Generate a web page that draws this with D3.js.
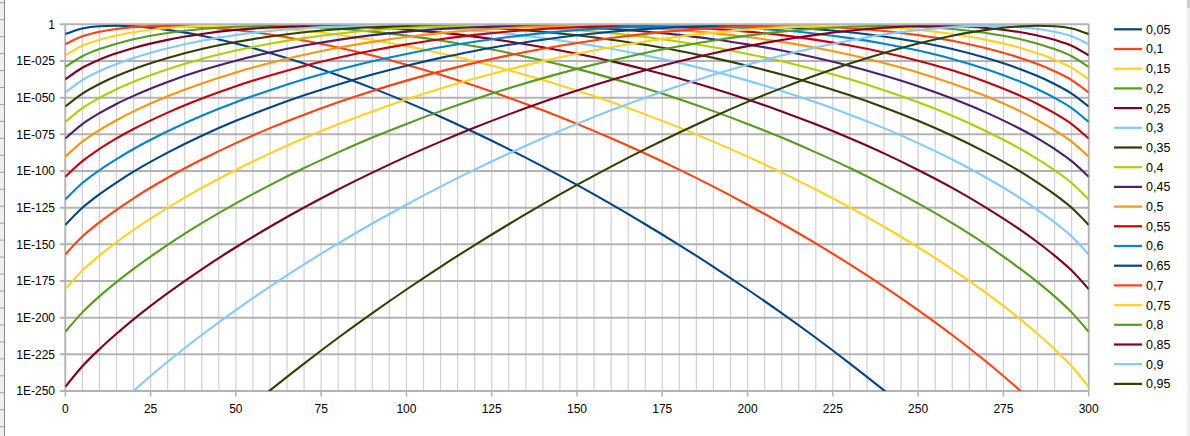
<!DOCTYPE html>
<html>
<head>
<meta charset="utf-8">
<script src="https://cdn.jsdelivr.net/npm/d3@7/dist/d3.min.js"></script>
<style>
  html, body { margin: 0; padding: 0; background: #fff; }
  svg { display: block; font-family: "Liberation Sans", Arial, sans-serif; }
</style>
</head>
<body>
<svg id="chart" width="1190" height="436"></svg>
<script>
// number of successes k (sampled points of 0..300)
const ks = [0,5,10,15,20,30,40,50,60,70,80,90,100,110,120,130,140,150,160,170,180,190,200,210,220,230,240,250,260,270,280,285,290,295,300];

// series names (probability p)
const seriesNames = ["0,05","0,1","0,15","0,2","0,25","0,3","0,35","0,4","0,45","0,5","0,55","0,6","0,65","0,7","0,75","0,8","0,85","0,9","0,95"];

// values as decimal exponents (value = 10^e)
const e05 = [-6.7,-2.8,-1.3,-1.0,-1.4,-3.8,-7.8,-13.1,-19.5,-26.7,-34.7,-43.5,-52.9,-63.0,-73.8,-85.1,-97.0,-109.5,-122.6,-136.3,-150.5,-165.3,-180.8,-196.9,-213.7,-231.3,-249.6,-268.9,-289.2,-310.7,-333.9,-346.2,-359.4,-373.6,-390.3];
const e10 = [-13.7,-8.2,-5.1,-3.2,-1.9,-1.1,-1.9,-3.9,-7.0,-11.0,-15.8,-21.3,-27.5,-34.4,-41.9,-50.0,-58.6,-67.9,-77.7,-88.1,-99.1,-110.7,-123.0,-135.8,-149.4,-163.7,-178.8,-194.8,-211.8,-230.1,-250.0,-260.8,-272.3,-284.9,-300.0];
const e15 = [-21.2,-14.6,-10.6,-7.6,-5.4,-2.5,-1.3,-1.3,-2.4,-4.4,-7.2,-10.7,-14.9,-19.7,-25.2,-31.3,-38.0,-45.2,-53.0,-61.4,-70.4,-80.0,-90.2,-101.1,-112.6,-124.9,-138.0,-152.0,-167.0,-183.3,-201.2,-211.0,-221.5,-233.1,-247.2];
const e20 = [-29.1,-21.8,-16.9,-13.2,-10.2,-5.9,-3.2,-1.7,-1.2,-1.7,-3.0,-5.0,-7.7,-11.0,-15.0,-19.5,-24.7,-30.4,-36.7,-43.6,-51.1,-59.2,-67.9,-77.2,-87.3,-98.0,-109.6,-122.1,-135.6,-150.4,-166.8,-175.8,-185.5,-196.4,-209.7];
const e25 = [-37.5,-29.6,-24.1,-19.8,-16.1,-10.6,-6.6,-3.8,-2.2,-1.4,-1.4,-2.1,-3.6,-5.7,-8.4,-11.7,-15.6,-20.1,-25.1,-30.8,-37.0,-43.8,-51.3,-59.4,-68.2,-77.7,-88.0,-99.3,-111.5,-125.1,-140.2,-148.6,-157.7,-167.9,-180.6];
const e30 = [-46.5,-38.0,-32.0,-27.1,-23.0,-16.3,-11.2,-7.4,-4.6,-2.7,-1.6,-1.3,-1.6,-2.6,-4.3,-6.5,-9.3,-12.7,-16.7,-21.2,-26.3,-32.1,-38.4,-45.5,-53.2,-61.6,-70.8,-81.0,-92.2,-104.6,-118.6,-126.5,-135.0,-144.7,-156.9];
const e35 = [-56.1,-47.2,-40.7,-35.3,-30.6,-23.0,-16.9,-12.1,-8.3,-5.4,-3.4,-2.0,-1.4,-1.4,-2.0,-3.3,-5.1,-7.5,-10.5,-14.0,-18.2,-22.9,-28.3,-34.3,-41.0,-48.4,-56.7,-65.8,-76.0,-87.5,-100.5,-107.9,-115.9,-125.1,-136.8];
const e40 = [-66.6,-57.1,-50.2,-44.3,-39.2,-30.6,-23.6,-17.9,-13.2,-9.4,-6.4,-4.1,-2.5,-1.6,-1.3,-1.6,-2.5,-4.0,-6.0,-8.7,-11.9,-15.7,-20.2,-25.2,-31.0,-37.5,-44.9,-53.1,-62.3,-72.9,-85.0,-91.9,-99.5,-108.2,-119.4];
const e45 = [-77.9,-68.0,-60.6,-54.3,-48.8,-39.3,-31.4,-24.8,-19.2,-14.5,-10.6,-7.4,-5.0,-3.2,-2.0,-1.4,-1.4,-2.0,-3.2,-4.9,-7.2,-10.2,-13.7,-17.9,-22.8,-28.4,-34.9,-42.2,-50.6,-60.2,-71.4,-77.8,-85.0,-93.3,-104.0];
const e50 = [-90.3,-80.0,-72.2,-65.4,-59.4,-49.1,-40.3,-32.8,-26.4,-20.8,-16.0,-12.0,-8.7,-6.0,-4.0,-2.5,-1.6,-1.3,-1.6,-2.5,-4.0,-6.0,-8.7,-12.0,-16.0,-20.8,-26.4,-32.8,-40.3,-49.1,-59.4,-65.4,-72.2,-80.0,-90.3];
const e55 = [-104.0,-93.3,-85.0,-77.8,-71.4,-60.2,-50.6,-42.2,-34.9,-28.4,-22.8,-17.9,-13.7,-10.2,-7.2,-4.9,-3.2,-2.0,-1.4,-1.4,-2.0,-3.2,-5.0,-7.4,-10.6,-14.5,-19.2,-24.8,-31.4,-39.3,-48.8,-54.3,-60.6,-68.0,-77.9];
const e60 = [-119.4,-108.2,-99.5,-91.9,-85.0,-72.9,-62.3,-53.1,-44.9,-37.5,-31.0,-25.2,-20.2,-15.7,-11.9,-8.7,-6.0,-4.0,-2.5,-1.6,-1.3,-1.6,-2.5,-4.1,-6.4,-9.4,-13.2,-17.9,-23.6,-30.6,-39.2,-44.3,-50.2,-57.1,-66.6];
const e65 = [-136.8,-125.1,-115.9,-107.9,-100.5,-87.5,-76.0,-65.8,-56.7,-48.4,-41.0,-34.3,-28.3,-22.9,-18.2,-14.0,-10.5,-7.5,-5.1,-3.3,-2.0,-1.4,-1.4,-2.0,-3.4,-5.4,-8.3,-12.1,-16.9,-23.0,-30.6,-35.3,-40.7,-47.2,-56.1];
const e70 = [-156.9,-144.7,-135.0,-126.5,-118.6,-104.6,-92.2,-81.0,-70.8,-61.6,-53.2,-45.5,-38.4,-32.1,-26.3,-21.2,-16.7,-12.7,-9.3,-6.5,-4.3,-2.6,-1.6,-1.3,-1.6,-2.7,-4.6,-7.4,-11.2,-16.3,-23.0,-27.1,-32.0,-38.0,-46.5];
const e75 = [-180.6,-167.9,-157.7,-148.6,-140.2,-125.1,-111.5,-99.3,-88.0,-77.7,-68.2,-59.4,-51.3,-43.8,-37.0,-30.8,-25.1,-20.1,-15.6,-11.7,-8.4,-5.7,-3.6,-2.1,-1.4,-1.4,-2.2,-3.8,-6.6,-10.6,-16.1,-19.8,-24.1,-29.6,-37.5];
const e80 = [-209.7,-196.4,-185.5,-175.8,-166.8,-150.4,-135.6,-122.1,-109.6,-98.0,-87.3,-77.2,-67.9,-59.2,-51.1,-43.6,-36.7,-30.4,-24.7,-19.5,-15.0,-11.0,-7.7,-5.0,-3.0,-1.7,-1.2,-1.7,-3.2,-5.9,-10.2,-13.2,-16.9,-21.8,-29.1];
const e85 = [-247.2,-233.1,-221.5,-211.0,-201.2,-183.3,-167.0,-152.0,-138.0,-124.9,-112.6,-101.1,-90.2,-80.0,-70.4,-61.4,-53.0,-45.2,-38.0,-31.3,-25.2,-19.7,-14.9,-10.7,-7.2,-4.4,-2.4,-1.3,-1.3,-2.5,-5.4,-7.6,-10.6,-14.6,-21.2];
const e90 = [-300.0,-284.9,-272.3,-260.8,-250.0,-230.1,-211.8,-194.8,-178.8,-163.7,-149.4,-135.8,-123.0,-110.7,-99.1,-88.1,-77.7,-67.9,-58.6,-50.0,-41.9,-34.4,-27.5,-21.3,-15.8,-11.0,-7.0,-3.9,-1.9,-1.1,-1.9,-3.2,-5.1,-8.2,-13.7];
const e95 = [-390.3,-373.6,-359.4,-346.2,-333.9,-310.7,-289.2,-268.9,-249.6,-231.3,-213.7,-196.9,-180.8,-165.3,-150.5,-136.3,-122.6,-109.5,-97.0,-85.1,-73.8,-63.0,-52.9,-43.5,-34.7,-26.7,-19.5,-13.1,-7.8,-3.8,-1.4,-1.0,-1.3,-2.8,-6.7];

const seriesValues = [e05,e10,e15,e20,e25,e30,e35,e40,e45,e50,e55,e60,e65,e70,e75,e80,e85,e90,e95];

const colors = ["#004586","#ff420e","#ffd320","#579d1c","#7e0021","#83caff","#314004","#aecf00","#4b1f6f","#ff950e","#c5000b","#0084d1","#004586","#ff420e","#ffd320","#579d1c","#7e0021","#83caff","#314004"];

const xTickValues = [0,25,50,75,100,125,150,175,200,225,250,275,300];
const yTickValues = [0,-25,-50,-75,-100,-125,-150,-175,-200,-225,-250];
const yTickLabels = ["1","1E-025","1E-050","1E-075","1E-100","1E-125","1E-150","1E-175","1E-200","1E-225","1E-250"];

// ---------- drawing ----------
const svg = d3.select("#chart");
svg.append("rect").attr("width",1190).attr("height",436).attr("fill","#fff");

// spreadsheet edge (left row headers, right scrollbar)
svg.append("rect").attr("x",0).attr("y",0).attr("width",4.5).attr("height",436).attr("fill","#f0f0f0");
svg.append("line").attr("x1",4.5).attr("x2",4.5).attr("y1",0).attr("y2",436).attr("stroke","#8a8a8a").attr("stroke-width",1);
svg.append("g").selectAll("line").data(d3.range(0,26)).join("line")
  .attr("x1",0).attr("x2",4).attr("y1",d=>2.7+d*16.96).attr("y2",d=>2.7+d*16.96)
  .attr("stroke","#a0a0a0").attr("stroke-width",1);
svg.append("rect").attr("x",1187).attr("y",0).attr("width",3).attr("height",436).attr("fill","#f0f0f0");
svg.append("rect").attr("x",1187).attr("y",0).attr("width",3).attr("height",8).attr("fill","#cdcdcd");

const x = d3.scaleLinear().domain([0,300]).range([65.3,1088.7]);
const y = d3.scaleLinear().domain([-250,0]).range([391,24.3]);

// vertical grid every 5
svg.append("g").selectAll("line").data(d3.range(0,301,5)).join("line")
  .attr("x1",d=>x(d)).attr("x2",d=>x(d)).attr("y1",y(0)).attr("y2",y(-250))
  .attr("stroke","#d0d0d0").attr("stroke-width",1.2);

// x ticks (below axis)
svg.append("g").selectAll("line").data(xTickValues).join("line")
  .attr("x1",d=>x(d)).attr("x2",d=>x(d)).attr("y1",y(-250)).attr("y2",y(-250)+5.5)
  .attr("stroke","#b3b3b3").attr("stroke-width",1.5);

// horizontal grid (with outer tick)
svg.append("g").selectAll("line").data(yTickValues).join("line")
  .attr("x1",x(0)-5.5).attr("x2",x(300)).attr("y1",d=>y(d)).attr("y2",d=>y(d))
  .attr("stroke","#b3b3b3").attr("stroke-width",2);

// plot borders left/right
svg.append("line").attr("x1",x(0)).attr("x2",x(0)).attr("y1",y(0)).attr("y2",y(-250)).attr("stroke","#b3b3b3").attr("stroke-width",1.8);
svg.append("line").attr("x1",x(300)).attr("x2",x(300)).attr("y1",y(0)).attr("y2",y(-250)).attr("stroke","#b3b3b3").attr("stroke-width",1.8);

// tick labels
svg.append("g").selectAll("text").data(yTickValues).join("text")
  .attr("x",55).attr("y",d=>y(d)+4.3).attr("text-anchor","end")
  .attr("font-size",12).attr("fill","#000").text((d,i)=>yTickLabels[i]);
svg.append("g").selectAll("text").data(xTickValues).join("text")
  .attr("x",d=>x(d)).attr("y",413.3).attr("text-anchor","middle")
  .attr("font-size",12).attr("fill","#000").text(d=>d);

// clip
svg.append("clipPath").attr("id","plotclip").append("rect")
  .attr("x",x(0)).attr("y",y(0)-3).attr("width",x(300)-x(0)).attr("height",y(-250)-y(0)+3);

const line = d3.line().x((d,i)=>x(ks[i])).y(d=>y(d)).curve(d3.curveMonotoneX);

svg.append("g").attr("clip-path","url(#plotclip)")
  .selectAll("path").data(seriesValues).join("path")
  .attr("d",d=>line(d)).attr("fill","none")
  .attr("stroke",(d,i)=>colors[i]).attr("stroke-width",2.1)
  .attr("stroke-linejoin","round").attr("stroke-linecap","butt");

// legend
const lg = svg.append("g").selectAll("g").data(seriesNames).join("g")
  .attr("transform",(d,i)=>`translate(0,${29.3+i*19.7})`);
lg.append("line").attr("x1",1114).attr("x2",1142).attr("y1",0).attr("y2",0)
  .attr("stroke",(d,i)=>colors[i]).attr("stroke-width",2.2);
lg.append("text").attr("x",1146).attr("y",4.4).attr("font-size",12.5).attr("fill","#000").text(d=>d);
</script>
</body>
</html>
